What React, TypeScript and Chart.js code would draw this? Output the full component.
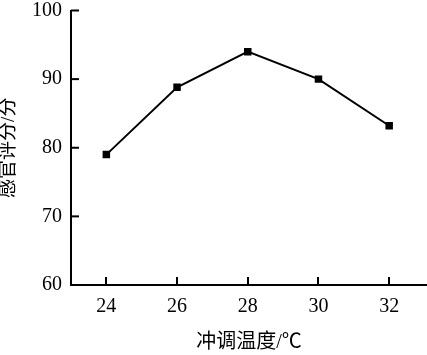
import React, { useEffect, useRef } from "react";
import { Chart, registerables } from "chart.js";

Chart.register(...registerables);

const temperatures = [24, 26, 28, 30, 32];
const scores = [79, 88.8, 94, 90, 83.2];
const xTickValues = [24, 26, 28, 30, 32];
const yTickValues = [60, 70, 80, 90, 100];
const xTitle = "冲调温度/℃";
const yTitle = "感官评分/分";

const NUM_FONT = "'Liberation Serif', 'DejaVu Serif', serif";
const TITLE_FONT = "'Liberation Serif', 'Noto Sans CJK SC', serif";

const innerTicks = {
  id: "innerTicks",
  afterDraw(chart: any) {
    const { ctx, chartArea } = chart;
    const xs = chart.scales.x;
    const ys = chart.scales.y;
    ctx.save();
    ctx.strokeStyle = "#000";
    ctx.lineWidth = 2;
    xs.ticks.forEach((t: any) => {
      const px = Math.round(xs.getPixelForValue(t.value));
      ctx.beginPath();
      ctx.moveTo(px, chartArea.bottom);
      ctx.lineTo(px, chartArea.bottom - 8);
      ctx.stroke();
    });
    ys.ticks.forEach((t: any) => {
      const py = ys.getPixelForValue(t.value);
      ctx.beginPath();
      ctx.moveTo(chartArea.left, py);
      ctx.lineTo(chartArea.left + 8, py);
      ctx.stroke();
    });
    ctx.restore();
  },
};

export default function App() {
  const ref = useRef<HTMLCanvasElement>(null);
  useEffect(() => {
    if (!ref.current) return;
    const chart = new Chart(ref.current, {
      type: "line",
      data: {
        datasets: [
          {
            data: temperatures.map((t, i) => ({ x: t, y: scores[i] })),
            borderColor: "#000",
            borderWidth: 2,
            backgroundColor: "#000",
            pointStyle: "rect",
            pointRadius: 5.3,
            pointBorderWidth: 0,
            tension: 0,
          },
        ],
      },
      options: {
        animation: false,
        responsive: true,
        maintainAspectRatio: false,
        layout: { autoPadding: false, padding: { top: 10.5, right: 0, left: 0, bottom: 0 } },
        plugins: { legend: { display: false }, tooltip: { enabled: false } },
        scales: {
          x: {
            type: "linear",
            min: 23,
            max: 33.07,
            afterBuildTicks: (s: any) => {
              s.ticks = xTickValues.map((v) => ({ value: v }));
            },
            afterFit: (s: any) => {
              s.height = 70;
              s.paddingLeft = 0;
              s.paddingRight = 0;
            },
            grid: { display: false, drawTicks: false },
            border: { display: true, color: "#000", width: 2 },
            ticks: {
              color: "#000",
              padding: 12,
              font: { family: NUM_FONT, size: 20, lineHeight: 1 },
              maxRotation: 0,
            },
            title: {
              display: true,
              text: xTitle,
              color: "#000",
              padding: { top: 2, bottom: 2 },
              font: { family: TITLE_FONT, size: 20, lineHeight: 1 },
            },
          },
          y: {
            min: 60,
            max: 100,
            afterBuildTicks: (s: any) => {
              s.ticks = yTickValues.map((v) => ({ value: v }));
            },
            afterFit: (s: any) => {
              s.width = 71;
              s.paddingTop = 0;
              s.paddingBottom = 0;
            },
            grid: { display: false, drawTicks: false },
            border: { display: true, color: "#000", width: 2 },
            ticks: {
              color: "#000",
              padding: 9,
              font: { family: NUM_FONT, size: 20, lineHeight: 1 },
            },
            title: {
              display: true,
              text: yTitle,
              color: "#000",
              padding: { top: 0, bottom: 0 },
              font: { family: TITLE_FONT, size: 19, lineHeight: 1 },
            },
          },
        },
      },
      plugins: [innerTicks],
    });
    return () => chart.destroy();
  }, []);
  return (
    <div style={{ position: "fixed", left: 0, top: 0, width: 427, height: 355, background: "#fff" }}>
      <canvas ref={ref} />
    </div>
  );
}
